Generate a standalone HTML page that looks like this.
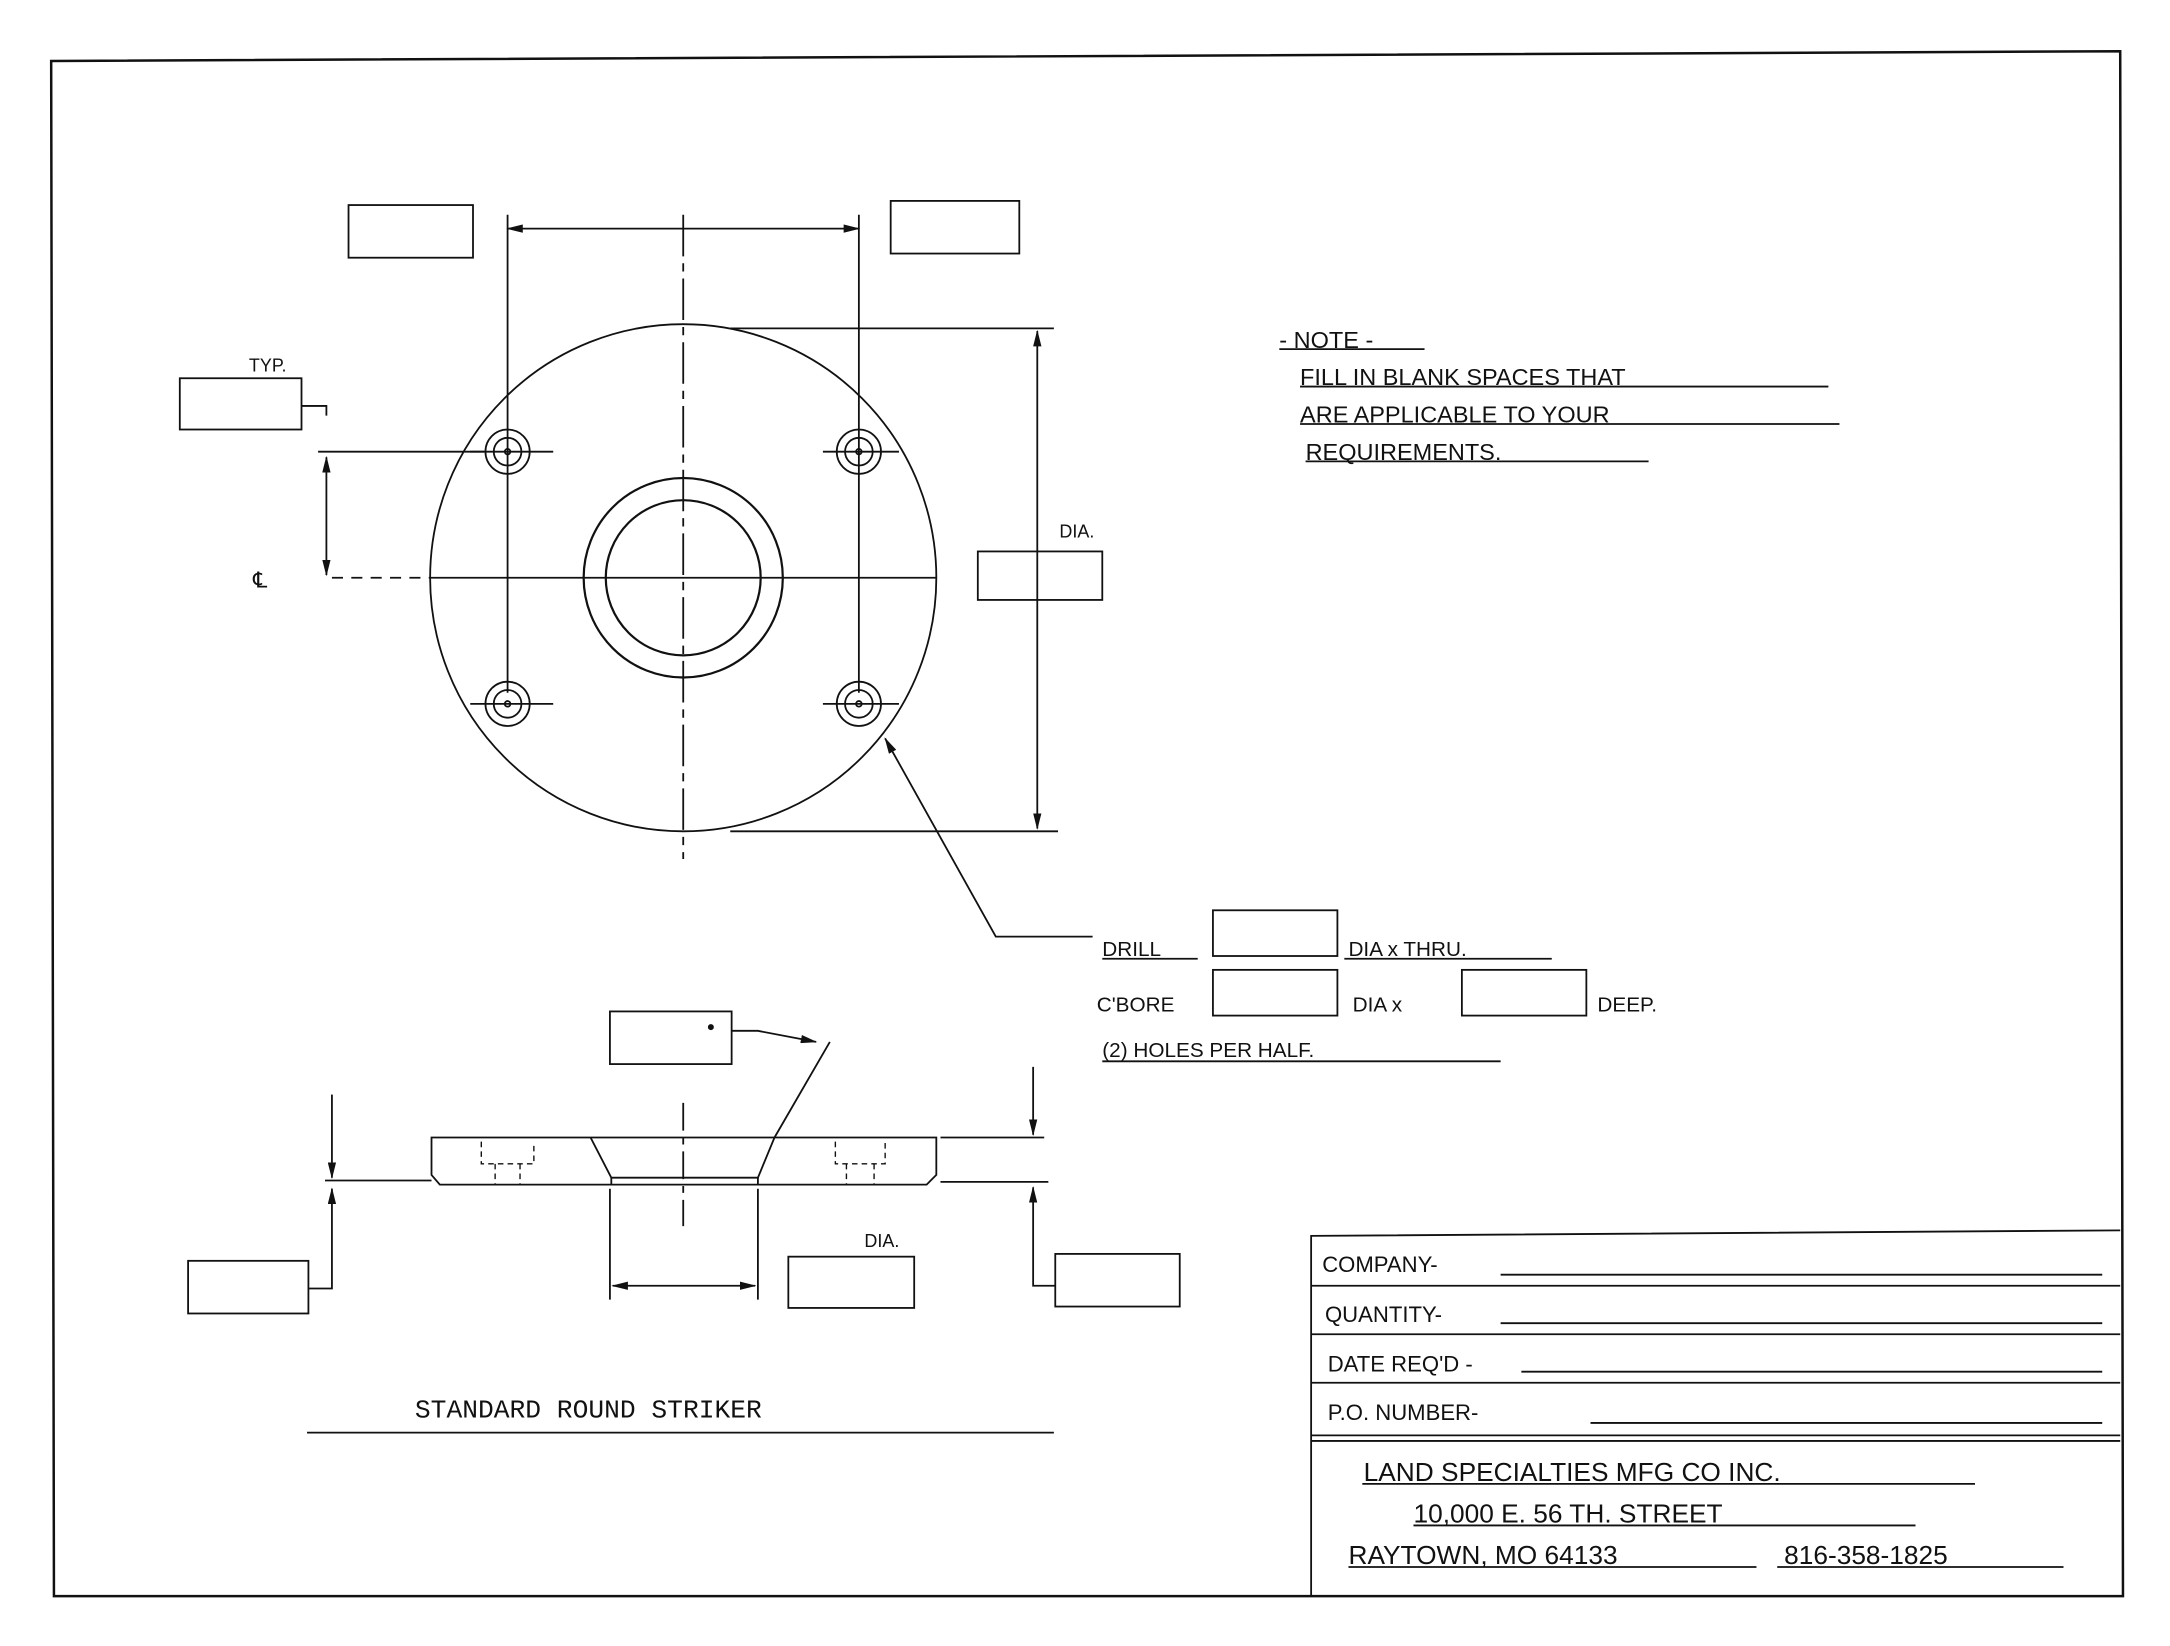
<!DOCTYPE html>
<html><head><meta charset="utf-8"><style>
html,body{margin:0;padding:0;background:#fff}
svg{display:block}
text{font-family:"Liberation Sans",sans-serif;fill:#111}
</style></head><body>
<svg width="2170" height="1646" viewBox="0 0 1569 1188" preserveAspectRatio="none" xmlns="http://www.w3.org/2000/svg">
<defs>
<marker id="a" markerWidth="12" markerHeight="6" refX="11" refY="3" orient="auto" markerUnits="userSpaceOnUse"><path d="M0,0 L12,3 L0,6z" fill="#111"/></marker>
<marker id="b" markerWidth="12" markerHeight="6" refX="1" refY="3" orient="auto" markerUnits="userSpaceOnUse"><path d="M12,0 L0,3 L12,6z" fill="#111"/></marker>
</defs>
<g stroke="#111" fill="none" stroke-width="1.3">
<path d="M37,44 L1533,37 L1535,1152 L39,1152 Z" stroke-width="1.8"/>
<circle cx="494" cy="417" r="183"/>
<circle cx="494" cy="417" r="72" stroke-width="1.6"/>
<circle cx="494" cy="417" r="56" stroke-width="1.6"/>
<g>
<circle cx="367" cy="326" r="16"/><circle cx="367" cy="326" r="10"/><circle cx="367" cy="326" r="2"/>
<circle cx="621" cy="326" r="16"/><circle cx="621" cy="326" r="10"/><circle cx="621" cy="326" r="2"/>
<circle cx="367" cy="508" r="16"/><circle cx="367" cy="508" r="10"/><circle cx="367" cy="508" r="2"/>
<circle cx="621" cy="508" r="16"/><circle cx="621" cy="508" r="10"/><circle cx="621" cy="508" r="2"/>
</g>
<line x1="494" y1="155" x2="494" y2="620" stroke-dasharray="30,5,6,5"/>
<line x1="310" y1="417" x2="677" y2="417"/>
<line x1="367" y1="155" x2="367" y2="500"/>
<line x1="621" y1="155" x2="621" y2="500"/>
<line x1="340" y1="326" x2="400" y2="326"/><line x1="595" y1="326" x2="650" y2="326"/>
<line x1="340" y1="508" x2="400" y2="508"/><line x1="595" y1="508" x2="650" y2="508"/>
<line x1="367" y1="165" x2="621" y2="165" marker-start="url(#b)" marker-end="url(#a)"/>
<rect x="252" y="148" width="90" height="38"/>
<rect x="644" y="145" width="93" height="38"/>
<rect x="130" y="273" width="88" height="37"/>
<rect x="707" y="398" width="90" height="35"/>
<path d="M218,293 L236,293 L236,300"/>
<line x1="230" y1="326" x2="350" y2="326"/>
<line x1="236" y1="330" x2="236" y2="415" marker-start="url(#b)" marker-end="url(#a)"/>
<line x1="240" y1="417" x2="305" y2="417" stroke-dasharray="8,6"/>
<line x1="528" y1="237" x2="762" y2="237"/>
<line x1="528" y1="600" x2="765" y2="600"/>
<line x1="750" y1="239" x2="750" y2="598" marker-start="url(#b)" marker-end="url(#a)"/>
<path d="M790,676 L720,676 L640,533" marker-end="url(#a)"/>
<line x1="925" y1="252" x2="1030" y2="252"/>
<line x1="940" y1="279" x2="1322" y2="279"/>
<line x1="940" y1="306" x2="1330" y2="306"/>
<line x1="944" y1="333" x2="1192" y2="333"/>
<rect x="877" y="657" width="90" height="33"/>
<rect x="877" y="700" width="90" height="33"/>
<rect x="1057" y="700" width="90" height="33"/>
<line x1="797" y1="692" x2="866" y2="692"/>
<line x1="972" y1="692" x2="1122" y2="692"/>
<line x1="797" y1="766" x2="1085" y2="766"/>
<path d="M312,821 L677,821 L677,848 L670,855 L318,855 L312,848 Z"/>
<path d="M427,821 L442,850 L548,850 L560,821"/>
<line x1="442" y1="850" x2="442" y2="855"/><line x1="548" y1="850" x2="548" y2="855"/>
<g stroke-dasharray="4,3" stroke-width="1">
<path d="M348,824 L348,840 L386,840 L386,824"/><line x1="358" y1="840" x2="358" y2="855"/><line x1="376" y1="840" x2="376" y2="855"/>
<path d="M604,824 L604,840 L640,840 L640,824"/><line x1="612" y1="840" x2="612" y2="855"/><line x1="632" y1="840" x2="632" y2="855"/>
</g>
<line x1="494" y1="796" x2="494" y2="885" stroke-dasharray="20,5,5,5"/>
<rect x="441" y="730" width="88" height="38"/>
<path d="M529,744 L548,744 L590,752" marker-end="url(#a)"/>
<line x1="600" y1="752" x2="560" y2="821"/>
<line x1="235" y1="852" x2="312" y2="852"/>
<line x1="240" y1="790" x2="240" y2="850" marker-end="url(#a)"/>
<path d="M223,930 L240,930 L240,858" marker-end="url(#a)"/>
<rect x="136" y="910" width="87" height="38"/>
<line x1="680" y1="821" x2="755" y2="821"/>
<line x1="680" y1="853" x2="758" y2="853"/>
<line x1="747" y1="770" x2="747" y2="819" marker-end="url(#a)"/>
<path d="M763,928 L747,928 L747,857" marker-end="url(#a)"/>
<rect x="763" y="905" width="90" height="38"/>
<line x1="441" y1="858" x2="441" y2="938"/>
<line x1="548" y1="858" x2="548" y2="938"/>
<line x1="443" y1="928" x2="546" y2="928" marker-start="url(#b)" marker-end="url(#a)"/>
<rect x="570" y="907" width="91" height="37"/>
<line x1="222" y1="1034" x2="762" y2="1034"/>
<path d="M948,1152 L948,892 L1533,888"/>
<line x1="948" y1="928" x2="1533" y2="928"/>
<line x1="948" y1="963" x2="1533" y2="963"/>
<line x1="948" y1="998" x2="1533" y2="998"/>
<line x1="948" y1="1036" x2="1533" y2="1036"/>
<line x1="948" y1="1040" x2="1533" y2="1040"/>
<line x1="1085" y1="920" x2="1520" y2="920"/>
<line x1="1085" y1="955" x2="1520" y2="955"/>
<line x1="1100" y1="990" x2="1520" y2="990"/>
<line x1="1150" y1="1027" x2="1520" y2="1027"/>
<line x1="985" y1="1071" x2="1428" y2="1071"/>
<line x1="1022" y1="1101" x2="1385" y2="1101"/>
<line x1="975" y1="1131" x2="1270" y2="1131"/>
<line x1="1285" y1="1131" x2="1492" y2="1131"/>
</g>
<g font-size="15">
<text x="180" y="268" font-size="13">TYP.</text>
<text x="183" y="424" font-size="16">℄</text>
<text x="766" y="388" font-size="13">DIA.</text>
<text x="925" y="251" font-size="17">- NOTE -</text>
<text x="940" y="278" font-size="17">FILL IN BLANK SPACES THAT</text>
<text x="940" y="305" font-size="17">ARE APPLICABLE TO YOUR</text>
<text x="944" y="332" font-size="17">REQUIREMENTS.</text>
<text x="797" y="690">DRILL</text>
<text x="975" y="690">DIA x THRU.</text>
<text x="793" y="730">C'BORE</text>
<text x="978" y="730">DIA x</text>
<text x="1155" y="730">DEEP.</text>
<text x="797" y="763">(2) HOLES PER HALF.</text>
<text x="511" y="744" font-size="10">●</text>
<text x="625" y="900" font-size="13">DIA.</text>
<text x="300" y="1023" style="font-family:'Liberation Mono',monospace;font-size:19px">STANDARD ROUND STRIKER</text>
<text x="956" y="918" font-size="16">COMPANY-</text>
<text x="958" y="954" font-size="16">QUANTITY-</text>
<text x="960" y="990" font-size="16">DATE REQ'D -</text>
<text x="960" y="1025" font-size="16">P.O. NUMBER-</text>
<text x="986" y="1069" font-size="19">LAND SPECIALTIES MFG CO INC.</text>
<text x="1022" y="1099" font-size="19">10,000 E. 56 TH. STREET</text>
<text x="975" y="1129" font-size="19">RAYTOWN, MO 64133</text>
<text x="1290" y="1129" font-size="19">816-358-1825</text>
</g>
</svg>
</body></html>
